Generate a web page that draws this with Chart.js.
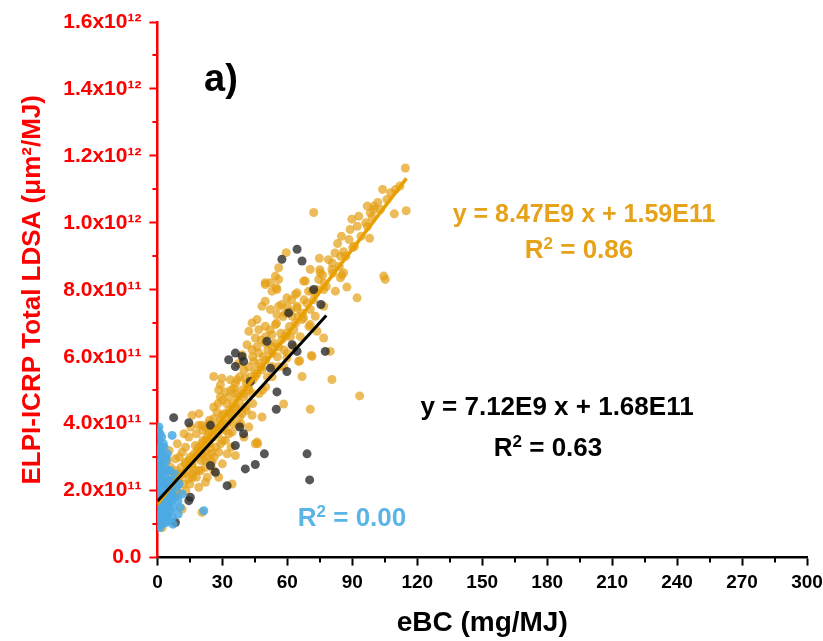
<!DOCTYPE html>
<html><head><meta charset="utf-8">
<script src="https://cdn.jsdelivr.net/npm/chart.js@4.4.1/dist/chart.umd.min.js"></script>
<style>html,body{margin:0;padding:0;background:#fff}</style>
</head><body>
<canvas id="c" width="823" height="641"></canvas>
<script>
// ---------- data (x: eBC mg/MJ, y: LDSA µm²/MJ) ----------
const orangePts = [
[114.5,11.64e11],[114.9,10.36e11],[109.4,10.27e11],[101.8,10.61e11],[96.9,10.5e11],[98.3,10.3e11],[100,10.4e11],[99.1,10.16e11],
[89.8,10.11e11],[72.2,10.31e11],[98,9.54e11],[83.2,9.38e11],[86,9.14e11],[90.2,9.26e11],[105.2,8.31e11],[104.5,8.41e11],
[59.5,9.11e11],[74.8,8.94e11],[80.6,8.61e11],[76.3,8.44e11],[85.2,8.44e11],[87.5,8.08e11],[82.2,7.96e11],[92.2,7.76e11],
[70.6,8.61e11],[68.3,8.26e11],[71.4,7.96e11],[56,8.66e11],[54.5,8.41e11],[52.2,8.21e11],[49.8,8.16e11],[54.9,8.06e11],
[52.9,7.96e11],[59.8,7.76e11],[63.7,7.86e11],[64.5,7.46e11],[61.4,7.36e11],[57.5,7.56e11],[55.2,7.26e11],[66.8,7.11e11],
[70.6,6.96e11],[73.7,6.76e11],[76.8,6.56e11],[79.8,6.16e11],[80.6,5.32e11],[93.4,4.83e11],[70.6,4.43e11],[65.7,5.88e11],
[71.1,6.04e11],[58.3,4.59e11],[46.3,3.40e11],[75.2,8.51e11],[86,8.51e11],[67.5,8.26e11],[74.5,8.31e11],[84.5,8.36e11],
[64.5,7.91e11],[69.8,7.96e11],[76.8,8.01e11],[64.5,7.51e11],[70.6,7.41e11],[76.8,7.51e11],[62.2,7.21e11],[67.5,7.16e11],
[72.9,7.21e11],[71.4,6.01e11],[65.2,5.86e11],[66.8,5.41e11],[49.8,8.21e11],[56,8.31e11],[55.2,8.01e11],[48.3,7.51e11],
[52.2,7.41e11],[49.8,7.66e11],[43.7,7.01e11],[46.8,6.81e11],[49.8,6.91e11],[52.9,6.66e11],[45.2,6.56e11],[42.2,6.76e11],
[54.5,6.96e11],[41.4,6.36e11],[43.7,6.21e11],[46.8,6.11e11],[39.1,6.06e11],[44.5,5.86e11],[49.8,6.41e11],[52.9,6.31e11],
[57.5,6.51e11],[59.8,6.71e11],[26,5.41e11],[29.8,5.36e11],[33.7,5.31e11],[36.8,5.31e11],[40.6,5.36e11],[45.2,5.41e11],
[48.3,5.61e11],[52.9,5.71e11],[28.3,5.01e11],[31.4,4.95e11],[29.1,4.80e11],[32.9,4.80e11],[36,4.90e11],[39.8,4.90e11],
[42.2,5.01e11],[58.3,5.71e11],[59.8,5.96e11],[46,7.11e11],[56,7.51e11],[59.1,7.31e11],[37.5,5.80e11],
[19.1,3.95e11],[22.2,3.90e11],[26,4.15e11],[29.8,4.25e11],[34.5,4.20e11],[39.1,4.30e11],[43.7,4.25e11],[48.3,4.20e11],
[27.5,4.35e11],[23.7,3.75e11],[29.8,3.85e11],[34.5,3.75e11],[31.4,3.50e11],[37.5,3.95e11],[42.2,3.90e11],[45.2,3.40e11],
[14.5,3.60e11],[17.5,3.35e11],[20.6,3.40e11],[24.5,3.25e11],[28.3,3.15e11],[32.2,3.10e11],[36,3.05e11],[11.4,3.15e11],
[8.3,2.95e11],[12.9,2.85e11],[16,2.75e11],[22.2,2.70e11],[25.2,2.85e11],[28.3,2.40e11],[19.1,2.10e11],[22.2,2.25e11],
[9.8,2.25e11],[14.5,2.35e11],[5.2,2.05e11],[8.3,1.85e11],[5.2,1.65e11],[11.4,1.45e11],[3.7,1.25e11],[2.2,0.90e11],
[20.6,1.35e11],[34.5,2.20e11],[16,4.25e11],[20.6,3.95e11],[46,3.45e11],[29.1,5.16e11],[35.2,5.06e11],
[1.5,1.9e11],[2.3,2.3e11],[3.1,1.6e11],[3.8,2.6e11],[4.6,2.9e11],[5.4,3.2e11],[6.2,2.5e11],[6.9,2.1e11],[8.5,2.6e11],
[9.2,3.4e11],[10,1.9e11],[11.5,2.5e11],[12.3,3.7e11],[13.1,2.0e11],[14.6,2.9e11],[15.4,3.9e11],[16.2,2.4e11],[16.9,3.0e11],
[17.7,2.6e11],[18.5,3.2e11],[19.2,4.3e11],[20,2.9e11],[20.8,3.1e11],[22.3,3.5e11],[23.1,3.0e11],[23.8,4.0e11],[25.4,3.6e11],
[26.2,3.0e11],[27.7,3.8e11],[29.2,3.4e11],[30,4.0e11],[31.5,3.8e11],[33.1,4.1e11],[36.2,4.4e11],[38.5,4.0e11],[40.8,4.5e11],
[43.8,4.9e11],[48.5,5.0e11],[50.8,5.4e11],[55.4,6.0e11],[58.5,6.2e11],[61.5,6.6e11],[63.8,7.0e11],[67.7,7.7e11],[73.1,7.9e11],
[76.9,8.2e11],[80.8,8.8e11],[84.6,9.0e11],[88.5,9.5e11],[92.3,9.9e11],[96.2,10.0e11],[107.7,10.9e11],
[3,1.9e11],[5,2.1e11],[7,2.3e11],[9,2.5e11],[10,2.3e11],[11,2.7e11],[12,2.5e11],[13,2.8e11],[14,2.6e11],[15,3.0e11],
[16,2.8e11],[17,3.1e11],[18,3.0e11],[19,3.3e11],[20,3.1e11],[21,3.5e11],[22,3.2e11],[23,3.6e11],[24,3.4e11],[25,3.8e11],
[26,3.6e11],[27,3.9e11],[28,3.7e11],[29,4.1e11],[30,3.9e11],[31,4.3e11],[32,4.0e11],[33,4.4e11],[34,4.3e11],[35,4.6e11],
[36,4.5e11],[37,4.8e11],[38,4.6e11],[39,5.0e11],[40,4.8e11],[41,5.2e11],[42,5.1e11],[43,5.4e11],[44,5.3e11],[45,5.6e11],
[46,5.5e11],[47,5.8e11],[48,5.7e11],[49,6.0e11],[50,5.9e11],[51,6.2e11],[53,6.1e11],[54,6.4e11],[56,6.3e11],[57,6.7e11],
[59,6.6e11],[61,6.9e11],[63,6.8e11],[65,7.2e11],[67,7.3e11],[69,7.6e11],[72,7.7e11],[74,8.0e11],[78,8.1e11],[81,8.5e11],
[84,8.7e11],[87,9.0e11],[91,9.3e11],[94,9.6e11],[97,9.9e11],[103,10.4e11],[106,10.7e11],[110,11.0e11],[112,11.1e11],
[18,3.7e11],[21,3.8e11],[24,4.1e11],[26,4.5e11],[28,4.6e11],[30,4.7e11],[32,4.6e11],[34,5.0e11],[36,5.2e11],[38,5.4e11],
[40,5.6e11],[42,5.7e11],[44,6.0e11],[46,6.3e11],[48,6.5e11],[50,6.6e11],[52,6.8e11],[55,7.0e11],[58,7.2e11],[60,7.5e11],
[62,7.7e11],[16,2.5e11],[19,2.6e11],[22,2.9e11],[25,3.1e11],[27,3.3e11],[30,3.5e11],[33,3.7e11],[35,4.0e11],[38,4.2e11],
[41,4.4e11],[44,4.6e11],[47,4.9e11],[50,5.1e11],[53,5.4e11],[56,5.7e11],[60,6.1e11],[63,6.3e11],[66,6.6e11],[70,6.9e11],
[6,2.7e11],[7,1.8e11],[9,2.0e11],[10,3.0e11],[12,2.2e11],[13,3.3e11],[15,2.2e11],[18,2.4e11],[20,2.6e11],[23,2.4e11],
[26,2.6e11],[30,2.8e11],[34,3.3e11],[40,3.6e11],[75,8.6e11],[79,8.9e11],[82,9.1e11],[85,9.6e11],[89,9.8e11],[93,10.2e11],
[100,10.5e11],[104,11.0e11]
];
const grayPts = [
[64.5,9.21e11],[57.5,8.91e11],[66.8,8.86e11],[72.2,8.01e11],[75.5,7.56e11],[60.6,7.31e11],[50.6,6.46e11],[32.9,5.91e11],
[36,5.71e11],[39.1,6.01e11],[64.5,6.16e11],[77.5,6.16e11],[59.8,5.56e11],[55.2,4.95e11],[54.9,4.43e11],[42.9,5.26e11],
[36,3.35e11],[38,3.90e11],[49.4,3.10e11],[45.2,2.78e11],[40.6,2.65e11],[69.1,3.10e11],[70.3,2.32e11],[7.5,4.18e11],
[14.5,4.03e11],[24.5,3.95e11],[32.2,2.15e11],[15.2,1.80e11],[8.3,1.05e11],[24.5,2.75e11],[39.8,3.70e11],[26.8,2.55e11],
[14.5,1.70e11],[36,6.11e11],[39.8,5.86e11],[52.2,5.66e11],[62.2,6.36e11]
];
const bluePts = [
[0.2,3.8e11],[0.6,3.5e11],[1.2,3.7e11],[0.4,3.2e11],[0.9,3.0e11],[1.5,3.3e11],[2.0,3.6e11],[2.3,3.1e11],[0.3,2.8e11],
[0.8,2.6e11],[1.4,2.8e11],[1.9,2.5e11],[2.5,2.9e11],[3.1,3.3e11],[3.4,2.7e11],[0.2,2.3e11],[0.7,2.1e11],[1.2,2.4e11],
[1.8,2.0e11],[2.4,2.3e11],[2.9,2.1e11],[3.5,2.4e11],[4.0,2.9e11],[4.5,2.6e11],[4.9,2.3e11],[0.4,1.8e11],[1.0,1.6e11],
[1.6,1.7e11],[2.2,1.5e11],[2.8,1.8e11],[3.3,1.6e11],[3.8,1.9e11],[4.4,2.1e11],[5.0,1.8e11],[5.5,2.0e11],[6.1,2.3e11],
[6.8,2.0e11],[0.2,1.3e11],[0.8,1.1e11],[1.5,1.3e11],[2.1,1.0e11],[2.6,1.2e11],[3.2,1.4e11],[3.8,1.2e11],[4.3,1.5e11],
[4.8,1.3e11],[5.4,1.6e11],[6.0,1.4e11],[6.6,1.7e11],[7.3,1.5e11],[8.1,1.8e11],[8.8,2.1e11],[0.5,0.95e11],[1.2,0.9e11],
[1.8,1.15e11],[4.1,1.05e11],[5.2,1.1e11],[6.9,1.2e11],[0.8,1.45e11],[1.7,2.65e11],[2.8,2.55e11],[3.7,2.15e11],[4.6,2.0e11],
[5.8,2.6e11],[0.5,2.45e11],[1.5,2.2e11],[2.2,1.85e11],[3.0,1.95e11],[4.2,1.65e11],[6.3,1.85e11],[7.5,2.3e11],[0.15,3.0e11],
[1.1,3.25e11],[1.8,3.05e11],[0.7,3.9e11],[2.7,3.4e11],[6.8,3.65e11],[21.4,1.40e11],[9.6,1.3e11],[4.6,3.1e11],[3.8,3.0e11],
[9.5,1.7e11],[10.5,1.5e11],[11.5,1.9e11],[8.0,2.5e11],[7.2,1.0e11],[10,2.2e11]
];
// fitted lines (endpoints)
const orangeFit = [[0,1.59e11],[115,1.133e12]];
const blackFit  = [[0,1.68e11],[78,7.23e11]];
// axis ticks
const xMajorTicks = [0,30,60,90,120,150,180,210,240,270,300];
const xMinorTicks = [15,45,75,105,135,165,195,225,255,285];
const yMajorLabels = ['0.0','2.0x10¹¹','4.0x10¹¹','6.0x10¹¹','8.0x10¹¹','1.0x10¹²','1.2x10¹²','1.4x10¹²','1.6x10¹²'];
const yMinorTicks = [1e11,3e11,5e11,7e11,9e11,11e11,13e11,15e11];

// ---------- styles ----------
const RED = '#FF0000';
const ORANGE_TXT = '#E6A219';
const BLUE_TXT = '#5AB4E6';
const FONT = '"Liberation Sans", Arial, sans-serif';
const toXY = a => a.map(p => ({x: p[0], y: p[1]}));

function drawRich(ctx, parts, cx, cy, size, color) {
  const fN = `bold ${size}px ${FONT}`;
  const fS = `bold ${Math.round(size * 0.64)}px ${FONT}`;
  ctx.save();
  ctx.fillStyle = color;
  ctx.textBaseline = 'alphabetic';
  ctx.textAlign = 'left';
  let w = 0;
  for (const p of parts) { ctx.font = p[1] ? fS : fN; w += ctx.measureText(p[0]).width; }
  let x = cx - w / 2;
  const base = cy + size * 0.36;
  for (const p of parts) {
    ctx.font = p[1] ? fS : fN;
    ctx.fillText(p[0], x, p[1] ? base - size * 0.36 : base);
    x += ctx.measureText(p[0]).width;
  }
  ctx.restore();
}

const notes = [
  {parts: [['a)']], x: 221, y: 77, size: 38, color: '#000'},
  {parts: [['y = 8.47E9 x + 1.59E11']], x: 584, y: 213, size: 25, color: ORANGE_TXT},
  {parts: [['R'], ['2', 1], [' = 0.86']], x: 579, y: 249, size: 26, color: ORANGE_TXT},
  {parts: [['y = 7.12E9 x + 1.68E11']], x: 557, y: 406, size: 26, color: '#000'},
  {parts: [['R'], ['2', 1], [' = 0.63']], x: 548, y: 447, size: 26, color: '#000'},
  {parts: [['R'], ['2', 1], [' = 0.00']], x: 352, y: 517, size: 26, color: BLUE_TXT}
];

const extras = {
  id: 'extras',
  afterDraw(chart) {
    const ctx = chart.ctx, xs = chart.scales.x, ys = chart.scales.y;
    ctx.save();
    ctx.lineWidth = 2;
    ctx.strokeStyle = '#000';
    for (const v of xMinorTicks) {
      const px = Math.round(xs.getPixelForValue(v));
      ctx.beginPath(); ctx.moveTo(px, xs.top); ctx.lineTo(px, xs.top + 5); ctx.stroke();
    }
    ctx.strokeStyle = RED;
    for (const v of yMinorTicks) {
      const py = Math.round(ys.getPixelForValue(v));
      ctx.beginPath(); ctx.moveTo(ys.right - 5, py); ctx.lineTo(ys.right, py); ctx.stroke();
    }
    ctx.restore();
    for (const n of notes) drawRich(ctx, n.parts, n.x, n.y, n.size, n.color);
  }
};

new Chart(document.getElementById('c'), {
  type: 'scatter',
  data: {
    datasets: [
      {type: 'line', data: toXY(blackFit), borderColor: '#000', borderWidth: 3, pointRadius: 0, order: 0},
      {type: 'line', data: toXY(orangeFit), borderColor: '#E8A000', borderWidth: 3.5, pointRadius: 0, order: 1},
      {data: toXY(bluePts), backgroundColor: 'rgba(75,170,228,0.85)', pointRadius: 4.5, borderWidth: 0, order: 2},
      {data: toXY(grayPts), backgroundColor: 'rgba(40,40,40,0.78)', pointRadius: 4.5, borderWidth: 0, order: 3},
      {data: toXY(orangePts), backgroundColor: 'rgba(228,160,20,0.7)', pointRadius: 4.5, borderWidth: 0, order: 4}
    ]
  },
  options: {
    responsive: false,
    animation: false,
    events: [],
    layout: {padding: {left: 4, top: 22, right: 2, bottom: 1}},
    plugins: {legend: {display: false}, tooltip: {enabled: false}},
    scales: {
      x: {
        type: 'linear', min: 0, max: 300,
        afterBuildTicks: s => { s.ticks = xMajorTicks.map(v => ({value: v})); },
        afterFit: s => { s.paddingRight = 16; },
        ticks: {color: '#000', padding: 6, maxRotation: 0, autoSkip: false,
          font: {family: FONT, size: 19, weight: 'bold'},
          callback: v => String(v)},
        grid: {display: true, drawOnChartArea: false, drawTicks: true, tickLength: 8, tickWidth: 2, color: '#000', tickColor: '#000'},
        border: {display: true, color: '#000', width: 2.5},
        title: {display: true, text: 'eBC (mg/MJ)', color: '#000',
          font: {family: FONT, size: 28, weight: 'bold'}, padding: {top: 6, bottom: 0}}
      },
      y: {
        type: 'linear', min: 0, max: 1.6e12,
        afterBuildTicks: s => { s.ticks = yMajorLabels.map((l, i) => ({value: i * 2e11})); },
        ticks: {color: RED, padding: 8, autoSkip: false,
          font: {family: FONT, size: 21, weight: 'bold'},
          callback: (v, i) => yMajorLabels[i]},
        grid: {display: true, drawOnChartArea: false, drawTicks: true, tickLength: 8, tickWidth: 2, color: RED, tickColor: RED},
        border: {display: true, color: RED, width: 2.5},
        title: {display: true, text: 'ELPI-ICRP Total LDSA (μm²/MJ)', color: RED,
          font: {family: FONT, size: 26, weight: 'bold'}, padding: {top: 13, bottom: 7}}
      }
    }
  },
  plugins: [extras]
});
</script>
</body></html>
